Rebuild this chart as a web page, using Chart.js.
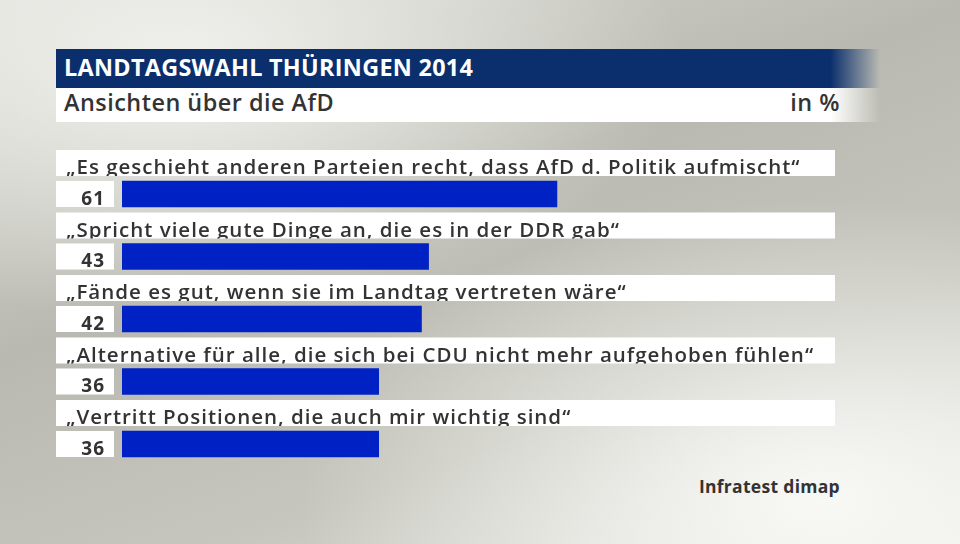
<!DOCTYPE html>
<html>
<head>
<meta charset="utf-8">
<script src="https://cdn.jsdelivr.net/npm/chart.js@4"></script>
<style>
  html, body { margin: 0; padding: 0; }
  body {
    width: 960px; height: 544px; overflow: hidden; position: relative;
    background:
      radial-gradient(ellipse 520px 300px at 820px 500px, rgba(248,248,245,1) 0%, rgba(248,248,245,0) 100%),
      radial-gradient(ellipse 500px 260px at 180px 60px, rgba(240,240,236,1) 0%, rgba(240,240,236,0) 100%),
      linear-gradient(160deg, #dcdcd6 0%, #b9b9b1 40%, #c6c6be 70%, #e8e8e4 100%);
    font-family: "Open Sans", sans-serif;
  }
  #title {
    position: absolute; left: 56px; top: 49px; width: 824px; height: 39px;
    background: linear-gradient(90deg, #0b2f6d 0%, #0b2f6d 94%, rgba(11,47,109,0) 100%);
    color: #fff; font-weight: 700; font-size: 23.4px; line-height: 36px;
    padding-left: 8px; box-sizing: border-box; letter-spacing: 0.3px;
  }
  #subtitle {
    position: absolute; left: 56px; top: 88px; width: 824px; height: 34px;
    background: linear-gradient(90deg, #fff 0%, #fff 94%, rgba(255,255,255,0) 100%);
    color: #333; font-weight: 600; font-size: 23.4px; line-height: 29.5px;
    padding-left: 8px; box-sizing: border-box; letter-spacing: 0.5px;
  }
  #subtitle span { position: absolute; right: 40px; top: 0; }
  #source {
    position: absolute; right: 120px; top: 477px; line-height: 18px;
    color: #333; font-weight: 700; font-size: 17.5px; letter-spacing: 0.3px;
  }
  canvas { position: absolute; left: 0; top: 0; }
</style>
</head>
<body>
<div id="title">LANDTAGSWAHL THÜRINGEN 2014</div>
<div id="subtitle">Ansichten über die AfD<span>in %</span></div>
<div id="source">Infratest dimap</div>
<canvas id="myChart" width="960" height="544"></canvas>
<script>
const categories = [
  '„Es geschieht anderen Parteien recht, dass AfD d. Politik aufmischt“',
  '„Spricht viele gute Dinge an, die es in der DDR gab“',
  '„Fände es gut, wenn sie im Landtag vertreten wäre“',
  '„Alternative für alle, die sich bei CDU nicht mehr aufgehoben fühlen“',
  '„Vertritt Positionen, die auch mir wichtig sind“'
];
const values = [61, 43, 42, 36, 36];

// white label strips, value boxes and texts around each bar
const rowPlugin = {
  id: 'rows',
  beforeDatasetsDraw(chart) {
    const ctx = chart.ctx;
    const yScale = chart.scales.y;
    const xScale = chart.scales.x;
    ctx.save();
    ctx.fillStyle = '#ffffff';
    categories.forEach((c, i) => {
      const y = yScale.getPixelForValue(i);
      ctx.fillRect(56, y - 44, xScale.right - 56, 26);
      ctx.fillRect(56, y - 13, 58, 26);
    });
    ctx.restore();
  },
  afterDatasetsDraw(chart) {
    const ctx = chart.ctx;
    const yScale = chart.scales.y;
    const xScale = chart.scales.x;
    ctx.save();
    ctx.fillStyle = '#333333';
    ctx.textBaseline = 'alphabetic';
    categories.forEach((c, i) => {
      const y = yScale.getPixelForValue(i);
      ctx.save();
      ctx.beginPath();
      ctx.rect(56, y - 44, xScale.right - 56, 26);
      ctx.clip();
      ctx.font = '600 20.5px "Open Sans"';
      ctx.letterSpacing = '1px';
      ctx.textAlign = 'left';
      ctx.fillText(c, 66, y - 20);
      ctx.restore();
      ctx.font = '700 19px "Open Sans"';
      ctx.letterSpacing = '1px';
      ctx.textAlign = 'right';
      ctx.fillText(String(values[i]), 105, y + 10.7);
    });
    ctx.restore();
  }
};

new Chart(document.getElementById('myChart'), {
  type: 'bar',
  data: {
    labels: categories,
    datasets: [{
      data: values,
      backgroundColor: '#0021c4',
      borderWidth: 0,
      barThickness: 26
    }]
  },
  options: {
    indexAxis: 'y',
    responsive: false,
    animation: false,
    layout: { padding: { left: 122, right: 125, top: 162.75, bottom: 68.75 } },
    plugins: { legend: { display: false }, tooltip: { enabled: false } },
    scales: {
      x: { min: 0, max: 100, display: false },
      y: { display: false }
    }
  },
  plugins: [rowPlugin]
});
</script>
</body>
</html>
